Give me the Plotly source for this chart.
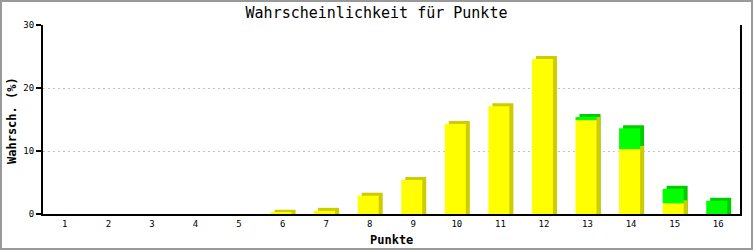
import plotly.graph_objects as go

punkte = list(range(1, 17))
tick_labels = [str(p) for p in punkte]
gelb = [0, 0, 0, 0, 0, 0.2, 0.5, 2.9, 5.4, 14.3, 17.1, 24.6, 14.9, 10.3, 1.7, 0]
gruen = [0, 0, 0, 0, 0, 0, 0, 0, 0, 0, 0, 0, 0.5, 3.3, 2.3, 2.1]

# style constants (3D depth emulation)
W = 0.482          # front bar width in category units
OFF = -0.276       # front bar offset
DX = 0.092         # depth shift right (category units)
DY = 0.48          # depth shift up (value units)

total = [g + r for g, r in zip(gelb, gruen)]

def nz(vals, ref):
    return [v if r > 0 else None for v, r in zip(vals, ref)]

font_mono = "DejaVu Sans Mono"
fig = go.Figure()

# green shadow
fig.add_trace(go.Bar(x=punkte, y=nz([t + DY for t in total], gruen), base=0,
                     width=W, offset=OFF + DX, marker=dict(color="#00CC00", line=dict(width=0)),
                     hoverinfo="skip", showlegend=False))
# yellow shadow
fig.add_trace(go.Bar(x=punkte, y=nz([g + DY for g in gelb], gelb), base=0,
                     width=W, offset=OFF + DX, marker=dict(color="#CCCC00", line=dict(width=0)),
                     hoverinfo="skip", showlegend=False))
# yellow front
fig.add_trace(go.Bar(x=punkte, y=nz(gelb, gelb), base=0,
                     width=W, offset=OFF, marker=dict(color="#FFFF00", line=dict(width=0)),
                     hoverinfo="skip", showlegend=False))
# green front
fig.add_trace(go.Bar(x=punkte, y=nz(gruen, gruen), base=gelb,
                     width=W, offset=OFF, marker=dict(color="#00FF00", line=dict(width=0)),
                     hoverinfo="skip", showlegend=False))

L, R, T, B = 43, 13, 25, 36
PW, PH = 753 - L - R, 250 - T - B

fig.update_layout(
    width=753, height=250,
    margin=dict(l=L, r=R, t=T, b=B),
    paper_bgcolor="white", plot_bgcolor="white",
    barmode="overlay",
    title=dict(text="Wahrscheinlichkeit für Punkte", x=0.5, xref="container", xanchor="center",
               y=1 - 13 / 250, yanchor="middle",
               font=dict(family=font_mono, size=15, color="black")),
    xaxis=dict(range=[0.5, 16.5], tickmode="array", tickvals=punkte, ticktext=tick_labels,
               showgrid=False, zeroline=False, showline=True, linecolor="black", linewidth=2,
               ticks="", tickfont=dict(family=font_mono, size=9, color="black")),
    yaxis=dict(range=[0, 30], tickvals=[0, 10, 20, 30], showgrid=True, gridcolor="#C0C0C0",
               griddash="2px,3px", gridwidth=1, zeroline=False, showline=True, linecolor="black",
               linewidth=2, mirror=True, ticks="outside", ticklen=5, tickcolor="black", tickwidth=2,
               tickfont=dict(family=font_mono, size=9, color="black")),
    annotations=[
        dict(text="<b>Punkte</b>", xref="paper", yref="paper", x=0.5, y=-(240 - 214) / PH,
             xanchor="center", yanchor="middle", showarrow=False,
             font=dict(family=font_mono, size=12, color="black")),
        dict(text="<b>Wahrsch. (%)</b>", xref="paper", yref="paper", x=-(43 - 12) / PW,
             y=(214 - 121) / PH, xanchor="center", yanchor="middle", textangle=-90,
             showarrow=False, font=dict(family=font_mono, size=12, color="black")),
    ],
    shapes=[
        dict(type="rect", xref="paper", yref="paper",
             x0=-(L - 1) / PW, x1=1 + (R - 1) / PW, y0=-(B - 1) / PH, y1=1 + (T - 1) / PH,
             line=dict(color="#999999", width=2), fillcolor="rgba(0,0,0,0)", layer="below"),
    ],
)

fig.write_html("out.html")
